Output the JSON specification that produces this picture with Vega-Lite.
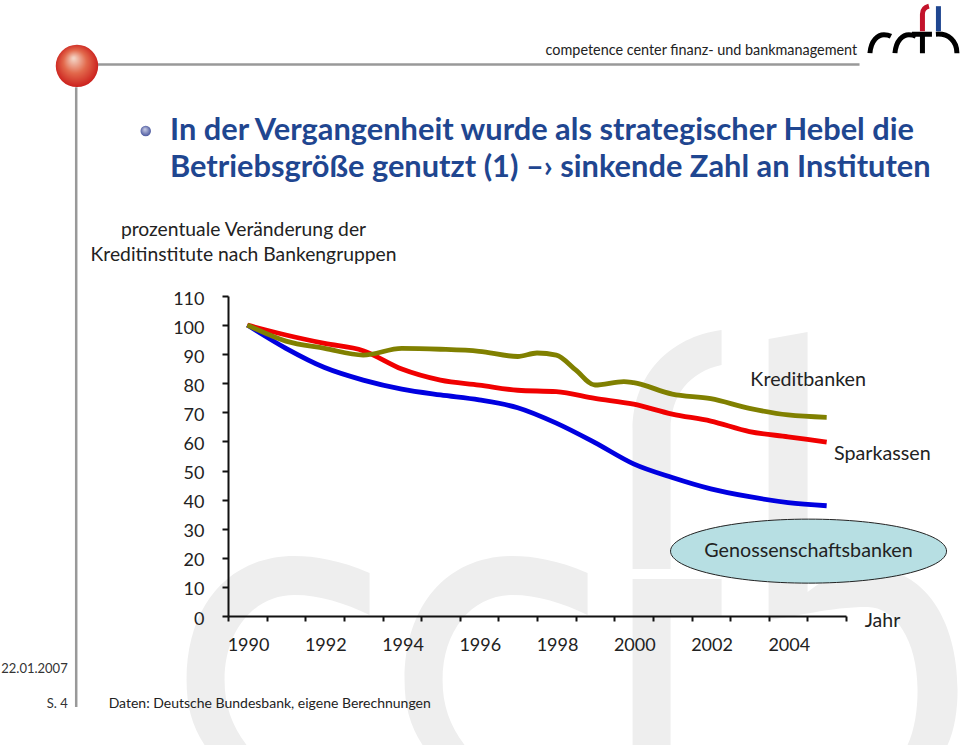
{
"$schema":"https://vega.github.io/schema/vega-lite/v6.json",
"width":618,"height":320,
"autosize":{"type":"none"},
"padding":{"left":228,"top":296,"right":114,"bottom":129},
"background":"white",
"view":{"stroke":null},
"config":{"font":"Lato"},
"title":{"text":["In der Vergangenheit wurde als strategischer Hebel die","Betriebsgröße genutzt (1) –› sinkende Zahl an Instituten"],"anchor":"start","frame":"group","dx":-58,"offset":-188,"font":"Lato","fontSize":30.8,"fontWeight":"bold","color":"#1f4690","lineHeight":37},
"datasets":{
"lines":[
{"bank":"Genossenschaftsbanken","year":1990,"value":100},{"bank":"Genossenschaftsbanken","year":1991,"value":92},{"bank":"Genossenschaftsbanken","year":1992,"value":85.4},{"bank":"Genossenschaftsbanken","year":1993,"value":81.1},{"bank":"Genossenschaftsbanken","year":1994,"value":78},{"bank":"Genossenschaftsbanken","year":1995,"value":76},{"bank":"Genossenschaftsbanken","year":1996,"value":74.3},{"bank":"Genossenschaftsbanken","year":1997,"value":71.6},{"bank":"Genossenschaftsbanken","year":1998,"value":66.3},{"bank":"Genossenschaftsbanken","year":1999,"value":59.6},{"bank":"Genossenschaftsbanken","year":2000,"value":52.3},{"bank":"Genossenschaftsbanken","year":2001,"value":47.6},{"bank":"Genossenschaftsbanken","year":2002,"value":43.7},{"bank":"Genossenschaftsbanken","year":2003,"value":41},{"bank":"Genossenschaftsbanken","year":2004,"value":39},{"bank":"Genossenschaftsbanken","year":2005,"value":37.9},
{"bank":"Sparkassen","year":1990,"value":100},{"bank":"Sparkassen","year":1991,"value":96.6},{"bank":"Sparkassen","year":1992,"value":93.7},{"bank":"Sparkassen","year":1993,"value":91.2},{"bank":"Sparkassen","year":1994,"value":84.9},{"bank":"Sparkassen","year":1995,"value":81.1},{"bank":"Sparkassen","year":1996,"value":79.4},{"bank":"Sparkassen","year":1997,"value":77.6},{"bank":"Sparkassen","year":1998,"value":77.1},{"bank":"Sparkassen","year":1999,"value":74.8},{"bank":"Sparkassen","year":2000,"value":72.8},{"bank":"Sparkassen","year":2001,"value":69.4},{"bank":"Sparkassen","year":2002,"value":67},{"bank":"Sparkassen","year":2003,"value":63.4},{"bank":"Sparkassen","year":2004,"value":61.6},{"bank":"Sparkassen","year":2005,"value":59.8},
{"bank":"Kreditbanken","year":1990,"value":100},{"bank":"Kreditbanken","year":1991,"value":94.5},{"bank":"Kreditbanken","year":1992,"value":92},{"bank":"Kreditbanken","year":1993,"value":89.7},{"bank":"Kreditbanken","year":1994,"value":92},{"bank":"Kreditbanken","year":1995,"value":91.7},{"bank":"Kreditbanken","year":1996,"value":91},{"bank":"Kreditbanken","year":1997,"value":89.2},{"bank":"Kreditbanken","year":1997.5,"value":90.4},{"bank":"Kreditbanken","year":1998,"value":89.7},{"bank":"Kreditbanken","year":1998.5,"value":84.6},{"bank":"Kreditbanken","year":1999,"value":79.4},{"bank":"Kreditbanken","year":1999.75,"value":80.6},{"bank":"Kreditbanken","year":2000,"value":80.2},{"bank":"Kreditbanken","year":2001,"value":76.3},{"bank":"Kreditbanken","year":2002,"value":74.7},{"bank":"Kreditbanken","year":2003,"value":71.4},{"bank":"Kreditbanken","year":2004,"value":69.1},{"bank":"Kreditbanken","year":2005,"value":68.3}
],
"seriesLabels":[
{"label":"Kreditbanken","year":2004.52,"value":79},
{"label":"Sparkassen","year":2006.44,"value":53.6},
{"label":"Genossenschaftsbanken","year":2004.53,"value":20.2}
],
"oval":[{"year":2004.53,"value":22.3}],
"watermark":[{"year":2000,"value":0}],
"logo":[{"year":2007,"value":200}],
"frameLines":[
{"year":1986.1,"year2":2005.85,"value":189.6,"value2":189.6},
{"year":1985.57,"year2":1985.57,"value":181.8,"value2":-31.3}
],
"ball":[{"year":1985.59,"value":189.1}],
"bullet":[{"year":1987.37,"value":166.7}],
"brand":[{"label":"competence center finanz- und bankmanagement","year":2005.79,"value":192.9}],
"sideNotes":[
{"label":"22.01.2007","year":1985.35,"value":-19.6},
{"label":"S. 4","year":1985.35,"value":-31.5}
],
"source":[{"label":"Daten: Deutsche Bundesbank, eigene Berechnungen","year":1986.41,"value":-31.5}]
},
"encoding":{
"x":{"field":"year","type":"quantitative","scale":{"domain":[1989.5,2005.5],"nice":false,"zero":false},
"axis":{"title":"Jahr","titleX":654,"titleY":-5,"titleAlign":"center","titleFontWeight":"normal","titleFontSize":19.5,"titleColor":"#222222","titleFont":"Lato",
"values":[1989.5,1990.5,1991.5,1992.5,1993.5,1994.5,1995.5,1996.5,1997.5,1998.5,1999.5,2000.5,2001.5,2002.5,2003.5,2004.5,2005.5],
"labelExpr":"(datum.value + 0.5) % 2 == 0 && datum.value < 2005 ? '' + (datum.value + 0.5) : ''",
"labelOffset":20,"labelOverlap":false,"labelBound":false,"labelFlush":false,"labelFontSize":18,"labelColor":"#222222","labelPadding":15,
"tickSize":5,"tickWidth":2,"tickColor":"#111111","domainColor":"#111111","domainWidth":2,"grid":false,"zindex":1}},
"y":{"field":"value","type":"quantitative","scale":{"domain":[0,110],"nice":false,"zero":false},
"axis":{"title":["prozentuale Veränderung der","Kreditinstitute nach Bankengruppen"],"titleX":15,"titleY":-61,"titleAngle":0,"titleAlign":"center","titleBaseline":"alphabetic","titleFontWeight":"normal","titleFontSize":19.3,"titleColor":"#222222","titleFont":"Lato","titleLineHeight":25,
"values":[0,10,20,30,40,50,60,70,80,90,100,110],"labelFontSize":18,"labelColor":"#222222","labelPadding":18,"labelOffset":3,
"tickSize":6,"tickWidth":2,"tickColor":"#111111","domainColor":"#111111","domainWidth":2,"grid":false,"zindex":1}}
},
"layer":[
{"data":{"name":"watermark"},"mark":{"type":"point","filled":true,"opacity":1,"size":4,"color":"#eeeeee","shape":"M-264,-43 C-294,-56 -319,-60 -339,-60 C-404,-60 -447,-11 -447,64 C-447,89 -442,109 -429,129 L-387,129 C-402,109 -409,89 -409,64 C-409,14 -379,-21 -339,-21 C-314,-21 -289,-13 -264,-1 Z M-46,-43 C-76,-56 -101,-60 -121,-60 C-186,-60 -229,-11 -229,64 C-229,89 -224,109 -211,129 L-169,129 C-184,109 -191,89 -191,64 C-191,14 -161,-21 -121,-21 C-96,-21 -71,-13 -46,-1 Z M88,-286 C36,-279 -1,-241 -1,-186 L-1,-47 L37,-47 L37,-186 C37,-221 56,-244 88,-251 Z M-1,-37 L88,-37 L88,1 L37,1 L37,129 L-1,129 Z M135,-277 L174,-284 L174,-24 C196,-41 216,-48 236,-48 C291,-48 324,4 324,74 C324,94 321,114 314,129 L274,129 C281,114 284,94 284,74 C284,24 261,-9 234,-9 C196,-9 161,1 135,4 Z"}},
{"data":{"name":"frameLines"},"mark":{"type":"rule","color":"#999999","strokeWidth":2.5},"encoding":{"x2":{"field":"year2"},"y2":{"field":"value2"}}},
{"data":{"name":"ball"},"mark":{"type":"point","filled":true,"opacity":1,"size":1800,"shape":"circle","color":{"gradient":"radial","x1":0.42,"y1":0.32,"r1":0.02,"x2":0.5,"y2":0.5,"r2":0.58,"stops":[{"offset":0,"color":"#f3d3c4"},{"offset":0.45,"color":"#e2694c"},{"offset":1,"color":"#c60f12"}]}}},
{"data":{"name":"bullet"},"mark":{"type":"point","filled":true,"opacity":1,"size":110,"shape":"circle","color":{"gradient":"radial","x1":0.42,"y1":0.32,"r1":0.02,"x2":0.5,"y2":0.5,"r2":0.58,"stops":[{"offset":0,"color":"#c9cde6"},{"offset":1,"color":"#3c4a96"}]}}},
{"data":{"name":"logo"},"mark":{"type":"point","filled":false,"fill":null,"opacity":1,"size":4,"stroke":"#000000","strokeWidth":5,"shape":"M-34,19 C-33,6 -26,0.5 -20,0.5 C-17,0.5 -15,1 -13,2 M-9,19 C-8,6 -1,0.5 5,0.5 C8,0.5 10,1 12,2 M18.5,19 L18.5,-1 M8,0 L28,0 M32,0 C45,-1 53,7 53,19"}},
{"data":{"name":"logo"},"mark":{"type":"point","filled":false,"fill":null,"opacity":1,"size":4,"stroke":"#c3132b","strokeWidth":5,"shape":"M18.5,-3 L18.5,-20 C18.5,-25 21,-27 25,-28"}},
{"data":{"name":"logo"},"mark":{"type":"point","filled":false,"fill":null,"opacity":1,"size":4,"stroke":"#1f4690","strokeWidth":5,"shape":"M34.5,-3 L34.5,-28"}},
{"data":{"name":"lines"},"mark":{"type":"line","interpolate":"monotone","strokeWidth":4.8},"encoding":{"color":{"field":"bank","type":"nominal","sort":null,"legend":null,"scale":{"domain":["Genossenschaftsbanken","Sparkassen","Kreditbanken"],"range":["#0000e0","#f00000","#808000"]}},"order":{"field":"year"}}},
{"data":{"name":"oval"},"mark":{"type":"point","filled":true,"opacity":1,"size":4,"fill":"#b7dfe3","stroke":"#222222","strokeWidth":1,"shape":"M-138,0 A138,32 0 1,1 138,0 A138,32 0 1,1 -138,0 Z"}},
{"data":{"name":"seriesLabels"},"mark":{"type":"text","fontSize":19.7,"color":"#222222","align":"center","baseline":"alphabetic"},"encoding":{"text":{"field":"label"}}},
{"data":{"name":"brand"},"mark":{"type":"text","fontSize":14.4,"color":"#222222","align":"right","baseline":"alphabetic"},"encoding":{"text":{"field":"label"}}},
{"data":{"name":"sideNotes"},"mark":{"type":"text","fontSize":13,"color":"#333333","align":"right","baseline":"alphabetic"},"encoding":{"text":{"field":"label"}}},
{"data":{"name":"source"},"mark":{"type":"text","fontSize":14,"color":"#222222","align":"left","baseline":"alphabetic"},"encoding":{"text":{"field":"label"}}}
]
}
